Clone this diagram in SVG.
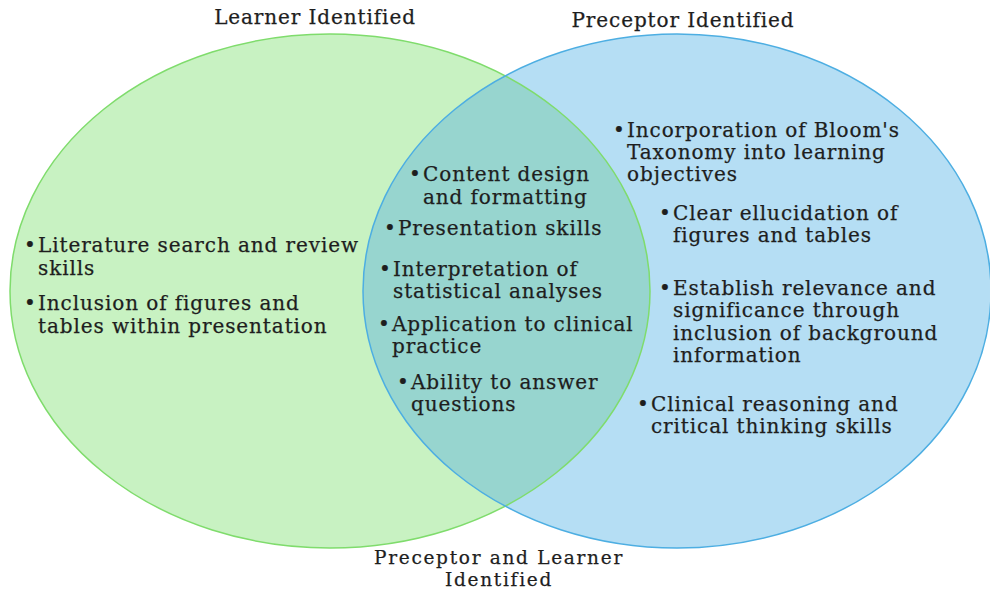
<svg xmlns="http://www.w3.org/2000/svg" width="990" height="592" viewBox="0 0 990 592">
  <style>
    text { font-family: "DejaVu Serif", "Liberation Serif", serif; font-size: 20px; letter-spacing: 0.9px; fill: #1e1e1e; stroke: #1e1e1e; stroke-width: 0.25px; }
    .title { text-anchor: middle; }
    .foot { font-size: 18.5px; letter-spacing: 1.7px; }
    .dot { font-size: 20px; letter-spacing: 0; }
  </style>
  <defs>
    <clipPath id="clipGreen">
      <ellipse cx="330" cy="291" rx="320" ry="257"/>
    </clipPath>
  </defs>
  <rect width="990" height="592" fill="#ffffff"/>

  <!-- set regions -->
  <g id="learner-set">
    <ellipse cx="330" cy="291" rx="320" ry="257" fill="#c8f2c2"/>
  </g>
  <g id="preceptor-set">
    <ellipse cx="677" cy="291" rx="314" ry="257" fill="#b5def4"/>
  </g>
  <g id="shared-set">
    <ellipse cx="677" cy="291" rx="314" ry="257" fill="#97d5cf" clip-path="url(#clipGreen)"/>
  </g>
  <g id="outlines" fill="none" stroke-width="1.5">
    <ellipse cx="330" cy="291" rx="320" ry="257" stroke="#7fdc6c"/>
    <ellipse cx="677" cy="291" rx="314" ry="257" stroke="#4daee2"/>
  </g>

  <!-- set titles -->
  <g id="titles">
    <text class="title" x="315" y="24">Learner Identified</text>
    <text class="title" x="683" y="27">Preceptor Identified</text>
    <text class="title foot" x="499" y="564">Preceptor and Learner</text>
    <text class="title foot" x="499" y="586">Identified</text>
  </g>

  <!-- learner-only items -->
  <g id="learner-items">
    <text class="dot" x="24" y="252">•</text><text x="38" y="252">Literature search and review</text>
    <text x="38" y="275">skills</text>
    <text class="dot" x="24" y="310">•</text><text x="38" y="310">Inclusion of figures and</text>
    <text x="38" y="333">tables within presentation</text>
  </g>

  <!-- shared items -->
  <g id="shared-items">
    <text class="dot" x="409" y="181">•</text><text x="423" y="181">Content design</text>
    <text x="423" y="204">and formatting</text>
    <text class="dot" x="384" y="235">•</text><text x="398" y="235">Presentation skills</text>
    <text class="dot" x="379" y="276">•</text><text x="393" y="276">Interpretation of</text>
    <text x="393" y="298">statistical analyses</text>
    <text class="dot" x="378" y="331">•</text><text x="392" y="331">Application to clinical</text>
    <text x="392" y="353">practice</text>
    <text class="dot" x="397" y="389">•</text><text x="411" y="389">Ability to answer</text>
    <text x="411" y="411">questions</text>
  </g>

  <!-- preceptor-only items -->
  <g id="preceptor-items">
    <text class="dot" x="613" y="137">•</text><text x="627" y="137">Incorporation of Bloom's</text>
    <text x="627" y="159">Taxonomy into learning</text>
    <text x="627" y="181">objectives</text>
    <text class="dot" x="659" y="220">•</text><text x="673" y="220">Clear ellucidation of</text>
    <text x="673" y="242">figures and tables</text>
    <text class="dot" x="659" y="295">•</text><text x="673" y="295">Establish relevance and</text>
    <text x="673" y="317">significance through</text>
    <text x="673" y="340">inclusion of background</text>
    <text x="673" y="362">information</text>
    <text class="dot" x="637" y="411">•</text><text x="651" y="411">Clinical reasoning and</text>
    <text x="651" y="433">critical thinking skills</text>
  </g>
</svg>
